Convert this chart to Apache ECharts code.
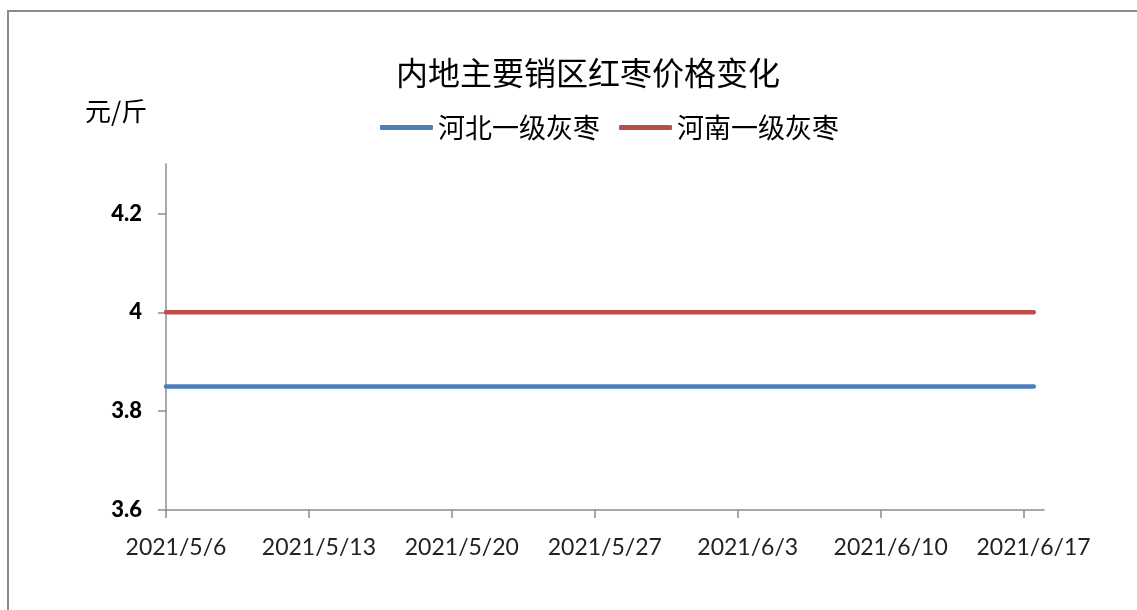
<!DOCTYPE html>
<html>
<head>
<meta charset="utf-8">
<script src="https://cdn.jsdelivr.net/npm/echarts@6/dist/echarts.min.js"></script>
<style>html,body{margin:0;padding:0;background:#fff;}#c{width:1137px;height:610px;}</style>
</head>
<body>
<div id="c"></div>
<script>
// x positions in days after 2021/5/6
var xDays = [0, 7, 14, 21, 28, 35, 42.5];
var hebei = [3.85, 3.85, 3.85, 3.85, 3.85, 3.85, 3.85];
var henan = [4.0, 4.0, 4.0, 4.0, 4.0, 4.0, 4.0];
var xTickDays = [0, 7, 14, 21, 28, 35, 42];
var xTickLabels = ['2021/5/6', '2021/5/13', '2021/5/20', '2021/5/27', '2021/6/3', '2021/6/10', '2021/6/17'];
var yTicks = [3.6, 3.8, 4.0, 4.2];
var seriesNames = ['河北一级灰枣', '河南一级灰枣'];

var cjk = '"Noto Sans CJK SC", sans-serif';
var num = 'Lato, "Noto Sans", sans-serif';

function pairs(xs, ys) { return xs.map(function (x, i) { return [x, ys[i]]; }); }

var chart = echarts.init(document.getElementById('c'));
chart.setOption({
  animation: false,
  backgroundColor: '#fff',
  title: {
    text: '内地主要销区红枣价格变化',
    left: 391, top: 52,
    textStyle: { fontFamily: cjk, fontSize: 32, fontWeight: 'normal', color: '#000' }
  },
  graphic: [
    { type: 'rect', z: -1, shape: { x: 8, y: 11, width: 1300, height: 800 },
      style: { fill: 'none', stroke: '#8a8a8a', lineWidth: 2 } },
    { type: 'text', left: 85, top: 98,
      style: { text: '元/斤', fontFamily: cjk, fontSize: 26, fill: '#000' } }
  ],
  legend: {
    left: 375, top: 109,
    itemWidth: 53, itemHeight: 5, itemGap: 19,
    icon: 'roundRect',
    data: seriesNames,
    textStyle: { fontFamily: cjk, fontSize: 27, color: '#000' }
  },
  grid: { left: 166, right: 93, top: 164, bottom: 100 },
  xAxis: {
    type: 'value', min: 0, max: 43,
    axisLine: { lineStyle: { color: '#8c8c8c', width: 1.5 } },
    axisTick: { show: true, length: 8, customValues: xTickDays, lineStyle: { color: '#8c8c8c', width: 1.5 } },
    splitLine: { show: false },
    axisLabel: {
      customValues: xTickDays, margin: 26, padding: [0, 0, 0, 20],
      fontFamily: num, fontSize: 23, color: '#222',
      formatter: function (v) { var i = xTickDays.indexOf(v); return i >= 0 ? xTickLabels[i] : ''; }
    }
  },
  yAxis: {
    type: 'value', min: 3.6, max: 4.3,
    axisLine: { show: true, lineStyle: { color: '#8c8c8c', width: 1.5 } },
    axisTick: { show: true, length: 8, customValues: yTicks, lineStyle: { color: '#8c8c8c', width: 1.5 } },
    splitLine: { show: false },
    axisLabel: {
      customValues: yTicks, margin: 24,
      fontFamily: num, fontSize: 22, fontWeight: 900, color: '#000',
      formatter: function (v) { return String(Math.round(v * 10) / 10); }
    }
  },
  series: [
    { name: seriesNames[0], type: 'line', data: pairs(xDays, hebei), showSymbol: false, symbol: 'none',
      lineStyle: { color: '#4a7ebb', width: 4.5, cap: 'round' }, itemStyle: { color: '#4a7ebb' } },
    { name: seriesNames[1], type: 'line', data: pairs(xDays, henan), showSymbol: false, symbol: 'none',
      lineStyle: { color: '#be4b48', width: 4.5, cap: 'round' }, itemStyle: { color: '#be4b48' } }
  ]
});
</script>
</body>
</html>
